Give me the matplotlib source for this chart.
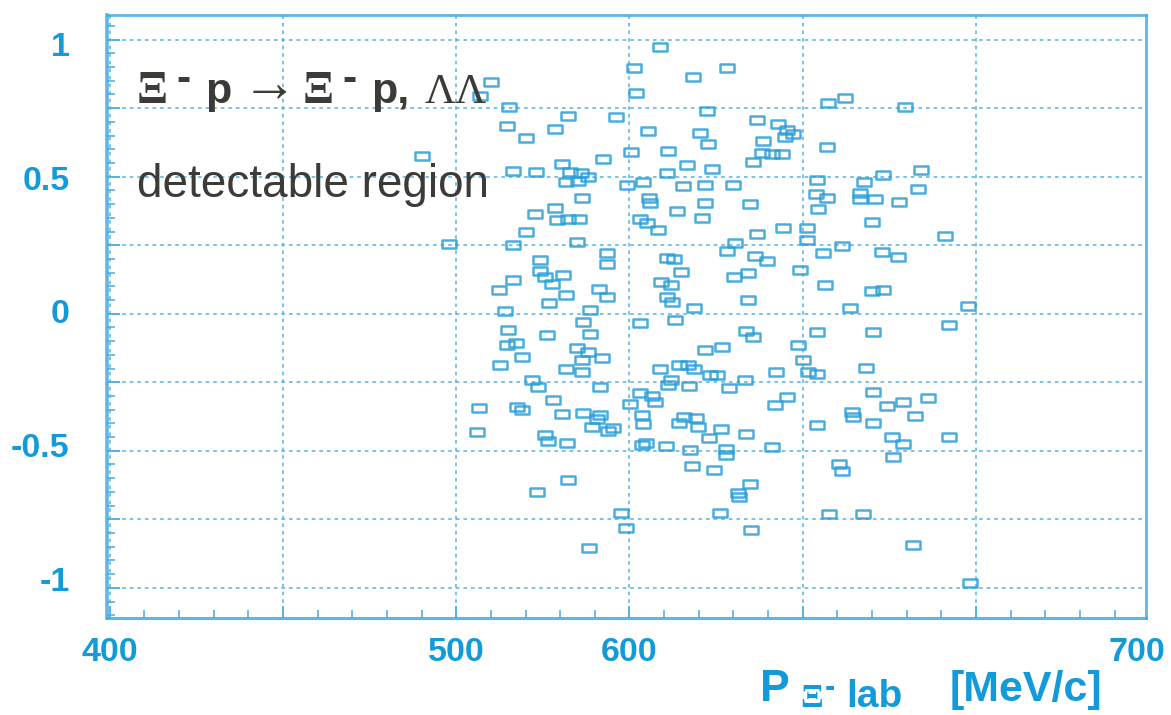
import matplotlib
matplotlib.use("Agg")
import matplotlib.pyplot as plt
import numpy as np
from matplotlib.path import Path
from matplotlib.ticker import MultipleLocator

plt.rcParams['axes.unicode_minus'] = False

# Lab momentum of the incoming Xi- [MeV/c] and the second coordinate of each event
p_lab = [
    558.8, 551.3, 578.1, 568.3, 510.0, 506.9, 551.9, 607.3, 612.2, 629.5,
    515.2, 532.3, 546.1, 572.4, 586.8, 592.9, 595.5, 597.2, 594.9, 514.6,
    528.5, 520.1, 555.3, 570.3, 572.7, 588.5, 607.0, 542.4, 550.4, 561.1,
    588.2, 591.1, 594.0, 490.1,
    585.6, 566.6, 573.8, 560.8, 530.5, 516.4, 523.0, 532.8, 536.0, 538.0,
    531.7, 535.1, 549.3, 553.9, 565.4, 571.8, 579.9, 604.1, 617.7, 623.2,
    634.1, 633.3, 536.3, 555.6, 555.9, 571.8, 584.8, 603.8, 607.0, 616.5,
    616.5, 620.9, 627.8, 522.7, 528.5, 529.1, 532.3, 535.4, 563.7, 570.9,
    553.0, 555.1, 604.4, 558.2, 520.1, 620.0, 594.3, 601.2, 601.2, 586.8,
    641.1, 516.4, 497.9, 534.8, 580.4,
    578.1, 543.5, 543.5, 560.8, 562.8, 564.9, 524.2, 524.2, 525.6, 530.8,
    586.2, 589.7, 605.8, 611.3, 622.9, 627.5, 516.4, 512.3, 527.6, 541.2,
    543.5, 531.7, 559.1, 562.0, 560.8, 562.3, 599.2, 580.2, 584.2, 606.4,
    620.0, 623.2, 526.8, 514.1, 538.6, 568.6, 584.2, 613.6, 647.7, 536.6,
    553.0, 563.1,
    642.2, 514.9, 526.2, 538.6, 583.6, 585.6, 604.1, 620.3, 514.6, 517.2,
    534.8, 538.0, 542.1, 536.3, 519.0, 512.6, 531.7, 536.3, 558.8, 564.3,
    566.9, 568.6, 571.8, 576.7, 598.6, 600.1, 573.2, 575.3, 592.3, 601.5,
    604.1, 618.3, 521.9, 523.6, 541.5, 562.0, 561.1, 567.2, 578.7, 583.3,
    595.5, 592.0, 620.3, 624.3, 628.9, 636.1, 553.0, 556.5, 557.4,
    550.1, 527.9, 506.6, 517.5, 519.0, 530.5, 536.6, 541.5, 540.6, 553.6,
    553.9, 564.3, 565.7, 569.2, 569.8, 539.2, 543.8, 545.2, 506.0, 525.6,
    526.5, 532.0, 553.6, 554.8, 560.5, 567.5, 572.9, 576.4, 583.6, 577.9,
    577.9, 591.1, 614.2, 614.5, 620.3, 604.1, 632.4, 625.8, 628.9, 642.2,
    626.0, 568.0, 574.4, 610.5, 611.3, 584.8, 581.3, 581.6, 532.3, 523.3,
    547.5, 549.0, 576.1, 607.6, 617.4, 585.1, 631.8, 538.3, 648.3,
]
cos_theta = [
    0.974, 0.898, 0.898, 0.865, 0.847, 0.796, 0.807, 0.770, 0.788, 0.755,
    0.755, 0.723, 0.719, 0.741, 0.708, 0.693, 0.672, 0.657, 0.646, 0.686,
    0.675, 0.642, 0.668, 0.661, 0.620, 0.631, 0.609, 0.566, 0.591, 0.595,
    0.588, 0.584, 0.584, 0.577,
    0.555, 0.544, 0.529, 0.515, 0.547, 0.522, 0.518, 0.518, 0.515, 0.500,
    0.482, 0.485, 0.471, 0.482, 0.467, 0.471, 0.471, 0.489, 0.482, 0.507,
    0.526, 0.456, 0.423, 0.423, 0.405, 0.405, 0.401, 0.438, 0.423, 0.442,
    0.420, 0.420, 0.409, 0.365, 0.387, 0.343, 0.347, 0.347, 0.376, 0.350,
    0.347, 0.332, 0.383, 0.307, 0.299, 0.336, 0.314, 0.314, 0.270, 0.292,
    0.285, 0.252, 0.255, 0.263, 0.259,
    0.230, 0.223, 0.182, 0.204, 0.201, 0.153, 0.197, 0.157, 0.135, 0.142,
    0.212, 0.193, 0.223, 0.248, 0.226, 0.208, 0.124, 0.088, 0.109, 0.091,
    0.062, 0.069, 0.117, 0.106, 0.062, 0.044, 0.161, 0.135, 0.150, 0.106,
    0.084, 0.088, 0.040, 0.011, 0.015, 0.022, 0.051, 0.022, 0.029, -0.029,
    -0.033, -0.022,
    -0.040, -0.058, -0.077, -0.073, -0.062, -0.084, -0.066, -0.066, -0.113, -0.106,
    -0.124, -0.139, -0.161, -0.168, -0.157, -0.186, -0.201, -0.212, -0.201, -0.186,
    -0.186, -0.201, -0.131, -0.120, -0.113, -0.168, -0.223, -0.223, -0.212, -0.212,
    -0.219, -0.197, -0.241, -0.266, -0.266, -0.241, -0.259, -0.263, -0.270, -0.241,
    -0.303, -0.332, -0.285, -0.336, -0.321, -0.307, -0.288, -0.299, -0.321,
    -0.328, -0.314, -0.343, -0.339, -0.350, -0.365, -0.361, -0.369, -0.383, -0.369,
    -0.401, -0.398, -0.376, -0.380, -0.412, -0.412, -0.427, -0.416, -0.431, -0.442,
    -0.464, -0.471, -0.478, -0.471, -0.482, -0.496, -0.453, -0.420, -0.438, -0.493,
    -0.515, -0.485, -0.358, -0.376, -0.398, -0.405, -0.372, -0.449, -0.474, -0.449,
    -0.522, -0.555, -0.569, -0.547, -0.573, -0.620, -0.653, -0.668, -0.606, -0.650,
    -0.726, -0.781, -0.726, -0.730, -0.730, -0.788, -0.843, -0.854, -0.982,
]

y_ticks = [-1.0, -0.5, 0.0, 0.5, 1.0]
y_tick_labels = ["-1", "-0.5", "0", "0.5", "1"]
x_ticks = [400, 500, 550]
x_tick_labels = ["400", "500", "600"]
x_end_label = "700"

BLUE = "#129bd8"
GRID = "#55b2e0"
MARK = "#2a9fd8"
TEXT = "#3b3b38"

fig = plt.figure(figsize=(11.71, 7.15), dpi=100)
ax = fig.add_axes([0.0914, 0.1357, 0.8873, 0.8433])
ax.set_xlim(399.2, 699.1)
ax.set_ylim(-1.11, 1.09)

# open rectangular markers, wider than tall
rect = Path([(-1, -0.66), (1, -0.66), (1, 0.66), (-1, 0.66), (-1, -0.66)],
            [Path.MOVETO, Path.LINETO, Path.LINETO, Path.LINETO, Path.CLOSEPOLY])
ax.plot(p_lab, cos_theta, linestyle="none", marker=rect, markersize=9.5,
        markerfacecolor="none", markeredgecolor=MARK, markeredgewidth=1.8,
        alpha=0.85, zorder=3)

# grid every 50 MeV/c and every 0.25
ax.xaxis.set_major_locator(MultipleLocator(50))
ax.xaxis.set_minor_locator(MultipleLocator(10))
ax.yaxis.set_major_locator(MultipleLocator(0.25))
ax.yaxis.set_minor_locator(MultipleLocator(0.05))
ax.grid(True, which="major", color=GRID, linestyle=(0, (2.0, 2.2)),
        linewidth=1.3, alpha=0.85)
ax.set_axisbelow(True)

ax.tick_params(which="both", direction="in", color=GRID, labelleft=False,
               labelbottom=False)
ax.tick_params(which="major", length=9, width=1.4)
ax.tick_params(which="minor", length=6, width=1.2)

for side, lw in (("left", 2.6), ("bottom", 2.2), ("top", 2.0), ("right", 2.0)):
    ax.spines[side].set_color("#45aadf")
    ax.spines[side].set_linewidth(lw)
    ax.spines[side].set_alpha(0.85)

# tick labels drawn as text so the bold blue face and spacing stay fixed
tick_font = dict(family="Liberation Sans", weight="bold", size=24.5, color=BLUE)
for yv, lab in zip(y_ticks, y_tick_labels):
    ax.annotate(lab, xy=(0, yv * 0.976 - 0.004),
                xycoords=("axes fraction", "data"),
                xytext=(-27, 0), textcoords="offset points",
                ha="right", va="center", **tick_font)
for xv, lab in zip(x_ticks, x_tick_labels):
    ax.annotate(lab, xy=(xv, 0), xycoords=("data", "axes fraction"),
                xytext=(0, -14), textcoords="offset points",
                ha="center", va="top", **tick_font)
ax.annotate(x_end_label, xy=(696.5, 0), xycoords=("data", "axes fraction"),
            xytext=(0, -14), textcoords="offset points",
            ha="center", va="top", **tick_font)

# reaction label
def fx(px):
    return px / 1171.0

def fy(py):
    return 1.0 - py / 715.0

serif_b = dict(family="Liberation Serif", weight="bold", size=33, color=TEXT)
sans_b = dict(family="Liberation Sans", weight="bold", size=31, color=TEXT)
fig.text(fx(137), fy(103), "\u039e", va="baseline", **serif_b)
fig.text(fx(176), fy(91), "-", va="baseline", **sans_b)
fig.text(fx(205), fy(103), "p", va="baseline", **sans_b)
fig.text(fx(242), fy(102), "\u2192", va="baseline",
         family=["Liberation Serif", "DejaVu Sans"], size=40, color=TEXT)
fig.text(fx(303), fy(103), "\u039e", va="baseline", **serif_b)
fig.text(fx(342), fy(91), "-", va="baseline", **sans_b)
fig.text(fx(371), fy(103), "p,", va="baseline", **sans_b)
fig.text(fx(425), fy(103), "\u039b\u039b", va="baseline", family="Liberation Serif",
         size=31, color=TEXT)
fig.text(fx(137), fy(197), "detectable region", va="baseline",
         family="Liberation Sans", size=33, color=TEXT)

# axis title: P with subscript Xi- lab, then the unit
xl = dict(weight="bold", color=BLUE)
fig.text(fx(760), fy(701), "P", va="baseline", family="Liberation Sans", size=32, **xl)
fig.text(fx(800), fy(707), "\u039e", va="baseline", family="Liberation Serif", size=24, **xl)
fig.text(fx(825), fy(696), "-", va="baseline", family="Liberation Sans", size=22, **xl)
fig.text(fx(846), fy(707), "lab", va="baseline", family="Liberation Sans", size=28, **xl)
fig.text(fx(950), fy(701), "[MeV/c]", va="baseline", family="Liberation Sans", size=31, **xl)

fig.savefig("out.png", dpi=100)
